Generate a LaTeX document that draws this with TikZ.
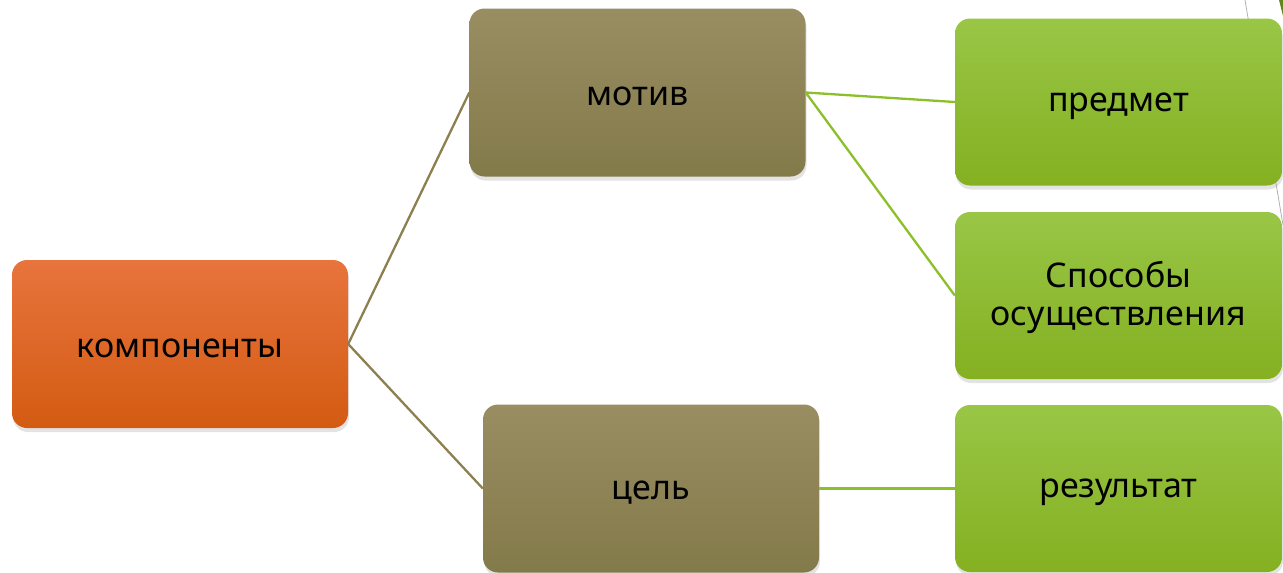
\documentclass[tikz,border=0pt]{standalone}
\usepackage{fontspec}
\setmainfont{Noto Sans}
\usetikzlibrary{shadows}
\definecolor{orT}{HTML}{E8743E}
\definecolor{orB}{HTML}{D35B12}
\definecolor{olT}{HTML}{998D62}
\definecolor{olB}{HTML}{837A4A}
\definecolor{grT}{HTML}{99C646}
\definecolor{grB}{HTML}{84B021}
\definecolor{olLine}{HTML}{8C7F50}
\definecolor{grLine}{HTML}{8CC02A}
\newcommand{\lowertext}[2][4pt]{\raisebox{-#1}[\height][\depth]{#2}}
\tikzset{
  box/.style={rounded corners=15pt, inner sep=0pt,
    font=\fontsize{34}{38}\selectfont, text=black,
    drop shadow={opacity=0.22, shadow xshift=1pt, shadow yshift=-4pt}},
  orbox/.style={box, top color=orT, bottom color=orB, minimum width=336pt, minimum height=168pt},
  olbox/.style={box, top color=olT, bottom color=olB, minimum width=336pt, minimum height=168pt},
  grbox/.style={box, top color=grT, bottom color=grB, minimum width=327pt, minimum height=167pt},
  olconn/.style={draw=olLine, line width=2.3pt},
  grconn/.style={draw=grLine, line width=2.3pt},
}
\begin{document}
\begin{tikzpicture}[x=1pt,y=-1pt]
\useasboundingbox (0,0) rectangle (1283,573);
% background decoration
\draw[gray!60, line width=0.8pt] (1245,0) -- (1283,225);
\fill[grLine!70!black] (1279,0) -- (1283,0) -- (1283,16) -- cycle;
% nodes
\node[orbox] (komp) at (180,344) {\lowertext{компоненты}};
\node[olbox] (motiv) at (637.5,92.5) {\lowertext{мотив}};
\node[olbox] (cel) at (651,488.5) {\lowertext{цель}};
\node[grbox] (predmet) at (1118.5,102) {\lowertext{предмет}};
\node[grbox] (sposob) at (1118.5,295.5) {\lowertext[3pt]{\begin{tabular}{@{}c@{}}Способы\\осуществления\end{tabular}}};
\node[grbox] (rez) at (1118.5,488.5) {\lowertext{результат}};
% connectors
\draw[olconn] (komp.east) -- (motiv.west);
\draw[olconn] (komp.east) -- (cel.west);
\draw[grconn] (motiv.east) -- (predmet.west);
\draw[grconn] (motiv.east) -- (sposob.west);
\draw[grconn] (cel.east) -- (rez.west);
\end{tikzpicture}
\end{document}
